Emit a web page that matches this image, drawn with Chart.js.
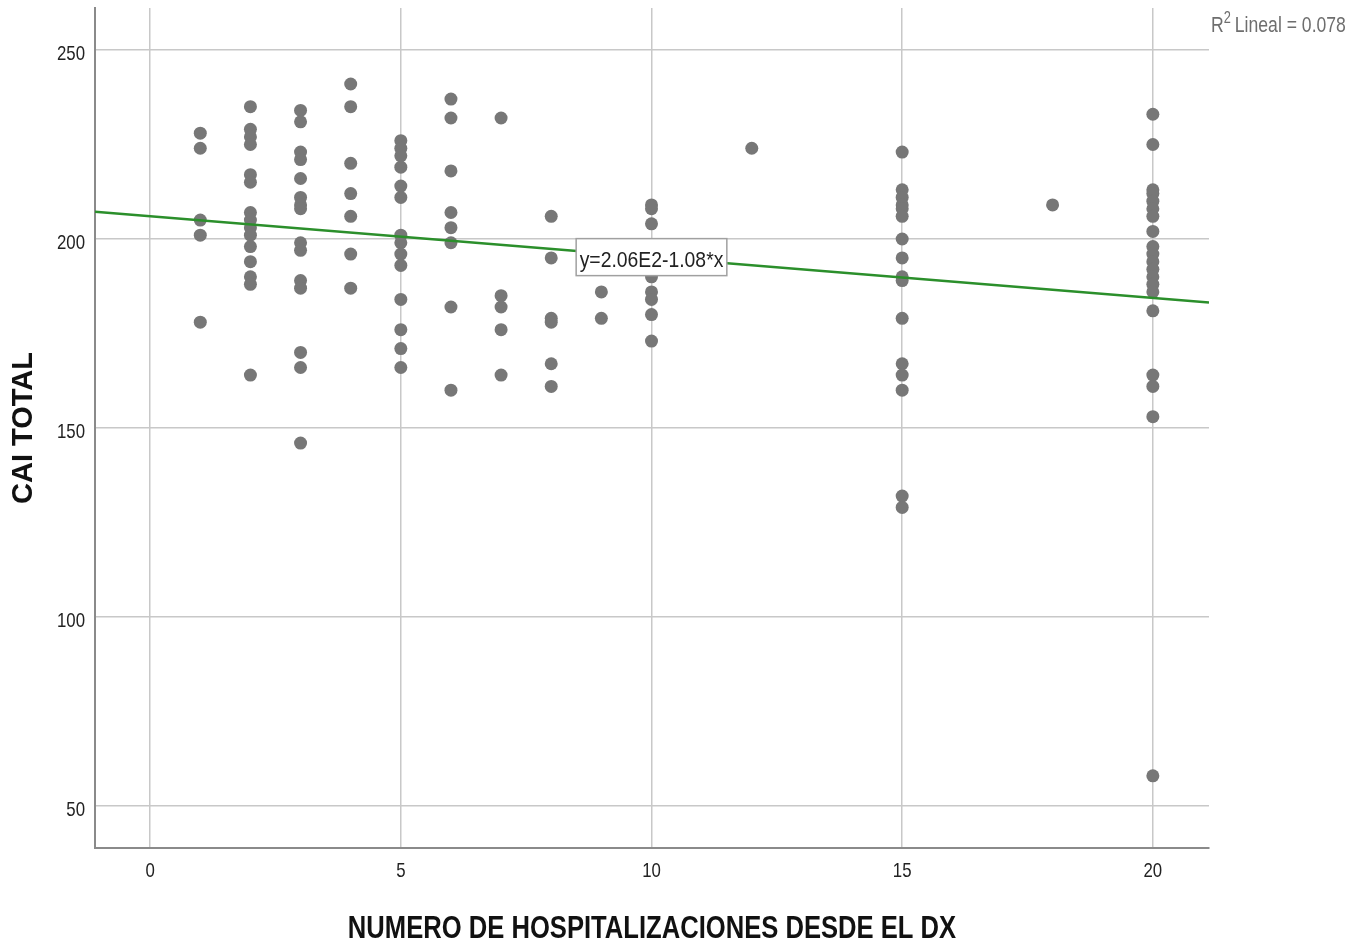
<!DOCTYPE html>
<html lang="es">
<head>
  <meta charset="UTF-8">
  <title>CAI TOTAL vs hospitalizaciones</title>
  <style>
    html, body {
      margin: 0;
      padding: 0;
      background: #fff;
    }
    #grafico {
      display: block;
    }
  </style>
</head>
<body>
  <canvas id="grafico" width="1363" height="943"></canvas>

  <script src="https://cdn.jsdelivr.net/npm/chart.js"></script>
  <script>
    // número de hospitalizaciones (x) y los valores de CAI TOTAL observados en cada uno
    const nivelesX = [1, 2, 3, 4, 5, 6, 7, 8, 9, 10, 12, 15, 18, 20];
    const caiPorNivel = [
      [228, 224, 205, 201, 178],
      [235, 229, 227, 225, 217, 215, 207, 205, 203, 201, 198, 194, 190, 188, 164],
      [234, 231, 223, 221, 216, 211, 209, 208, 199, 197, 189, 187, 170, 166, 146],
      [241, 235, 220, 212, 206, 196, 187],
      [226, 224, 222, 219, 214, 211, 201, 199, 196, 193, 184, 176, 171, 166],
      [237, 232, 218, 207, 203, 199, 182, 160],
      [232, 185, 182, 176, 164],
      [206, 195, 179, 178, 167, 161],
      [186, 179],
      [209, 208, 204, 190, 186, 184, 180, 173],
      [224],
      [223, 213, 211, 209, 208, 206, 200, 195, 190, 189, 179, 167, 164, 160, 132, 129],
      [209],
      [233, 225, 213, 212, 210, 208, 206, 202, 198, 196, 194, 192, 190, 188, 186, 181, 164, 161, 153, 58]
    ];

    const ticksX = [0, 5, 10, 15, 20];
    const ticksY = [50, 100, 150, 200, 250];
    const ejeX = { min: -1.1, max: 21.12 };
    const ejeY = { min: 38.9, max: 261.1 };
    const tituloX = 'NUMERO DE HOSPITALIZACIONES DESDE EL DX';
    const tituloY = 'CAI TOTAL';

    // recta de ajuste lineal
    const intercepto = 206;
    const pendiente = -1.08;
    const r2 = 0.078;
    const textoEcuacion = 'y=2.06E2-1.08*x';

    const puntos = [];
    nivelesX.forEach((x, i) => {
      caiPorNivel[i].forEach(y => puntos.push({ x: x, y: y }));
    });
    const recta = [ejeX.min, ejeX.max].map(x => ({ x: x, y: intercepto + pendiente * x }));

    const fuente = '"Liberation Sans", Arial, sans-serif';

    // texto estrecho: Liberation Sans comprimida en horizontal
    function textoAngosto(ctx, texto, x, y, alinear, factor) {
      ctx.save();
      ctx.translate(x, y);
      ctx.scale(factor, 1);
      ctx.textAlign = alinear;
      ctx.textBaseline = 'alphabetic';
      ctx.fillText(texto, 0, 0);
      ctx.restore();
    }

    const textos = {
      id: 'textos',
      afterDraw(chart) {
        const { ctx, chartArea, scales } = chart;
        ctx.save();

        // etiquetas de los ejes
        ctx.fillStyle = '#222';
        ctx.font = '21px ' + fuente;
        scales.y.ticks.forEach(t => {
          textoAngosto(ctx, String(t.value), chartArea.left - 10, scales.y.getPixelForValue(t.value) + 10, 'right', 0.8);
        });
        scales.x.ticks.forEach(t => {
          textoAngosto(ctx, String(t.value), scales.x.getPixelForValue(t.value), chartArea.bottom + 29, 'center', 0.8);
        });

        // título del eje x
        ctx.fillStyle = '#111';
        ctx.font = 'bold 32px ' + fuente;
        textoAngosto(ctx, tituloX, (chartArea.left + chartArea.right) / 2, 938, 'center', 0.8);

        // cuadro con la ecuación sobre la recta en x = 10
        const cx = scales.x.getPixelForValue(10);
        const cy = scales.y.getPixelForValue(intercepto + pendiente * 10);
        ctx.font = '22px ' + fuente;
        const w = ctx.measureText(textoEcuacion).width * 0.88 + 7;
        const h = 37;
        ctx.fillStyle = '#fff';
        ctx.fillRect(cx - w / 2, cy - h / 2, w, h);
        ctx.strokeStyle = '#a0a0a0';
        ctx.lineWidth = 1.5;
        ctx.strokeRect(cx - w / 2, cy - h / 2, w, h);
        ctx.fillStyle = '#222';
        textoAngosto(ctx, textoEcuacion, cx, cy + 10, 'center', 0.88);

        // R² en la esquina superior derecha
        const x0 = chartArea.right + 2;
        const base = 32;
        ctx.fillStyle = '#6e6e6e';
        ctx.font = '22px ' + fuente;
        textoAngosto(ctx, 'R', x0, base, 'left', 0.8);
        let px = x0 + ctx.measureText('R').width * 0.8;
        ctx.font = '16px ' + fuente;
        textoAngosto(ctx, '2', px, base - 9, 'left', 0.8);
        px += ctx.measureText('2').width * 0.8 + 4;
        ctx.font = '22px ' + fuente;
        textoAngosto(ctx, 'Lineal = ' + r2.toFixed(3), px, base, 'left', 0.8);

        ctx.restore();
      }
    };

    new Chart(document.getElementById('grafico'), {
      type: 'scatter',
      data: {
        datasets: [
          {
            type: 'line',
            data: recta,
            borderColor: '#2b8f2b',
            borderWidth: 2.5,
            pointRadius: 0,
            fill: false,
            order: 1
          },
          {
            data: puntos,
            backgroundColor: '#777777',
            borderWidth: 0,
            pointRadius: 6.5,
            pointHoverRadius: 6.5,
            order: 2
          }
        ]
      },
      options: {
        responsive: false,
        animation: false,
        events: [],
        layout: {
          padding: { top: 8, right: 154, bottom: 0, left: 0 }
        },
        plugins: {
          legend: { display: false },
          tooltip: { enabled: false }
        },
        scales: {
          x: {
            type: 'linear',
            min: ejeX.min,
            max: ejeX.max,
            afterBuildTicks: s => { s.ticks = ticksX.map(v => ({ value: v })); },
            afterFit: s => {
              s.height = 95;
              s.paddingLeft = 0;
              s.paddingRight = 0;
            },
            grid: { color: '#c8c8c8', lineWidth: 1.5, drawTicks: false },
            border: { display: true, color: '#8a8a8a', width: 2 },
            ticks: { display: false }
          },
          y: {
            type: 'linear',
            min: ejeY.min,
            max: ejeY.max,
            afterBuildTicks: s => { s.ticks = ticksY.map(v => ({ value: v })); },
            afterFit: s => {
              s.width = 95;
              s.paddingTop = 0;
              s.paddingBottom = 0;
            },
            grid: { color: '#c8c8c8', lineWidth: 1.5, drawTicks: false },
            border: { display: true, color: '#8a8a8a', width: 2 },
            ticks: { display: false },
            title: {
              display: true,
              text: tituloY,
              color: '#111',
              font: { family: fuente, size: 29, weight: 'bold', lineHeight: 1 },
              padding: { top: 9, bottom: 0 }
            }
          }
        }
      },
      plugins: [textos]
    });
  </script>
</body>
</html>
